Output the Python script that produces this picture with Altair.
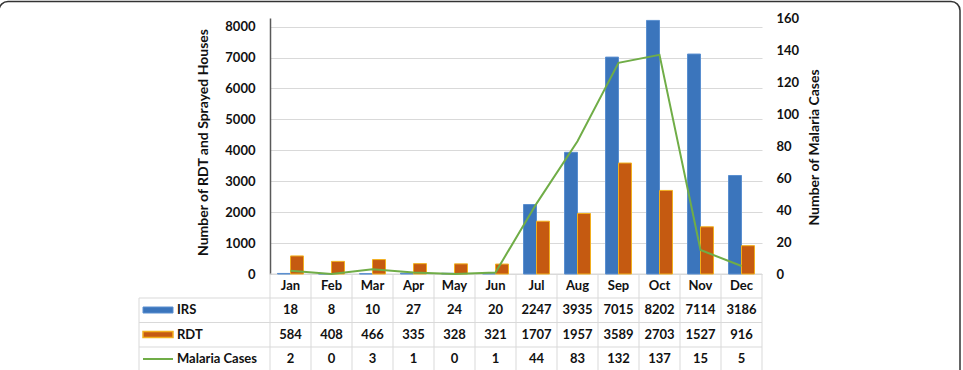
import altair as alt
import pandas as pd

# Monthly indoor residual spraying, rapid diagnostic tests and malaria cases
months = ["Jan", "Feb", "Mar", "Apr", "May", "Jun",
          "Jul", "Aug", "Sep", "Oct", "Nov", "Dec"]
irs = [18, 8, 10, 27, 24, 20, 2247, 3935, 7015, 8202, 7114, 3186]
rdt = [584, 408, 466, 335, 328, 321, 1707, 1957, 3589, 2703, 1527, 916]
malaria_cases = [2, 0, 3, 1, 0, 1, 44, 83, 132, 137, 15, 5]

series_names = ["IRS", "RDT", "Malaria Cases"]
blue = "#3B75BC"
orange = "#C55A11"
orange_edge = "#F2B01E"
green = "#70AD47"
grid_grey = "#D9D9D9"
FONT = "Lato"

W, H = 492, 256

bars_df = pd.DataFrame({
    "month": months * 2,
    "series": ["IRS"] * 12 + ["RDT"] * 12,
    "value": irs + rdt,
})
cases_df = pd.DataFrame({"month": months, "cases": malaria_cases})

x_scale = alt.Scale(domain=months, paddingInner=0, paddingOuter=0)
x_enc = alt.X("month:N", scale=x_scale, axis=None, sort=months)

bars = alt.Chart(bars_df).mark_bar(strokeWidth=1).encode(
    x=x_enc,
    xOffset=alt.XOffset("series:N", sort=["IRS", "RDT"],
                        scale=alt.Scale(paddingInner=0, paddingOuter=0.577)),
    y=alt.Y("value:Q",
            scale=alt.Scale(domain=[0, 8280], nice=False),
            axis=alt.Axis(values=list(range(0, 9000, 1000)), format="d", grid=True,
                          gridColor=grid_grey, gridWidth=1,
                          domain=True, domainColor="#595959", domainWidth=1.5,
                          ticks=False, labelPadding=15,
                          labelFont=FONT, labelFontSize=13, labelFontWeight="bold",
                          labelColor="#111111",
                          title="Number of RDT and Sprayed Houses",
                          titleFont=FONT, titleFontSize=14, titleFontWeight="bold",
                          titleColor="#111111", titleAngle=270,
                          titleBaseline="middle", titleX=-67, titleY=124)),
    color=alt.Color("series:N", scale=alt.Scale(domain=["IRS", "RDT"],
                                                range=[blue, orange]), legend=None),
    stroke=alt.Stroke("series:N", scale=alt.Scale(domain=["IRS", "RDT"],
                                                  range=["#5A8FD0", orange_edge]),
                      legend=None),
)

line = alt.Chart(cases_df).mark_line(color=green, strokeWidth=2).encode(
    x=x_enc,
    y=alt.Y("cases:Q",
            scale=alt.Scale(domain=[0, 160], nice=False),
            axis=alt.Axis(orient="right", values=list(range(0, 180, 20)), format="d",
                          grid=False, domain=False, ticks=False, labelPadding=14,
                          labelFont=FONT, labelFontSize=13, labelFontWeight="bold",
                          labelColor="#111111",
                          title="Number of Malaria Cases",
                          titleFont=FONT, titleFontSize=14, titleFontWeight="bold",
                          titleColor="#111111", titleAngle=270,
                          titleBaseline="middle", titleX=52, titleY=129)),
)

# ---- data table under the plot ----
row_mid = {"head": 268, "IRS": 292, "RDT": 316.5, "Malaria Cases": 341}
row_lines = [280, 304.5, 329]
table_bottom = 360
table_left = -131

table_df = pd.DataFrame({
    "month": months * 3,
    "row": ["IRS"] * 12 + ["RDT"] * 12 + ["Malaria Cases"] * 12,
    "label": [str(v) for v in irs + rdt + malaria_cases],
})

text_style = dict(font=FONT, fontSize=13, fontWeight="bold", color="#111111",
                  baseline="middle", align="center")

header = alt.Chart(pd.DataFrame({"month": months})).mark_text(**text_style).encode(
    x=x_enc, y=alt.value(row_mid["head"]), text="month:N")

cell_layers = []
for r in ["IRS", "RDT", "Malaria Cases"]:
    cell_layers.append(
        alt.Chart(table_df).transform_filter(alt.datum.row == r)
        .mark_text(**text_style)
        .encode(x=x_enc, y=alt.value(row_mid[r]), text="label:N")
    )

row_labels = []
for r in series_names:
    row_labels.append(
        alt.Chart(pd.DataFrame({"name": [r]}))
        .mark_text(font=FONT, fontSize=13, fontWeight="bold", color="#111111",
                   baseline="middle", align="left")
        .encode(x=alt.value(-93), y=alt.value(row_mid[r]), text="name:N")
    )

one = pd.DataFrame({"k": [0]})
swatch_irs = alt.Chart(one).mark_rect(color=blue, stroke="#5A8FD0", strokeWidth=1).encode(
    x=alt.value(-127), x2=alt.value(-97),
    y=alt.value(row_mid["IRS"] - 3), y2=alt.value(row_mid["IRS"] + 3))
swatch_rdt = alt.Chart(one).mark_rect(color=orange, stroke=orange_edge, strokeWidth=1.5).encode(
    x=alt.value(-127), x2=alt.value(-97),
    y=alt.value(row_mid["RDT"] - 3), y2=alt.value(row_mid["RDT"] + 3))
swatch_line = alt.Chart(one).mark_rule(color=green, strokeWidth=2).encode(
    x=alt.value(-127), x2=alt.value(-97),
    y=alt.value(row_mid["Malaria Cases"]))

rule_style = dict(color=grid_grey, strokeWidth=1)
v_rules = alt.Chart(pd.DataFrame({"month": months})).mark_rule(**rule_style).encode(
    x=alt.X("month:N", scale=x_scale, axis=None, sort=months, bandPosition=0),
    y=alt.value(H), y2=alt.value(table_bottom))
v_right = alt.Chart(one).mark_rule(**rule_style).encode(
    x=alt.value(W), y=alt.value(H), y2=alt.value(table_bottom))
v_left = alt.Chart(one).mark_rule(**rule_style).encode(
    x=alt.value(table_left), y=alt.value(row_lines[0]), y2=alt.value(table_bottom))
h_top = alt.Chart(one).mark_rule(**rule_style).encode(
    x=alt.value(0), x2=alt.value(W), y=alt.value(H))
h_rules = [
    alt.Chart(one).mark_rule(**rule_style).encode(
        x=alt.value(table_left), x2=alt.value(W), y=alt.value(yy))
    for yy in row_lines
]

frame = alt.Chart(one).mark_rect(fill="white", fillOpacity=0, stroke="#333333",
                                 strokeWidth=1.5, cornerRadius=9).encode(
    x=alt.value(-271), x2=alt.value(690), y=alt.value(-16.5), y2=alt.value(380))

chart = alt.layer(
    v_rules, v_right, v_left, h_top, *h_rules,
    bars, line,
    header, *cell_layers, *row_labels,
    swatch_irs, swatch_rdt, swatch_line,
    frame,
).resolve_scale(y="independent", stroke="independent", color="independent").properties(
    width=W, height=H,
    padding={"left": 270, "top": 18, "right": 201, "bottom": 96},
    autosize=alt.AutoSizeParams(type="none"),
    background="white",
).configure_view(stroke=None)

chart.save("out.html", embed_options={"renderer": "svg", "actions": False})
